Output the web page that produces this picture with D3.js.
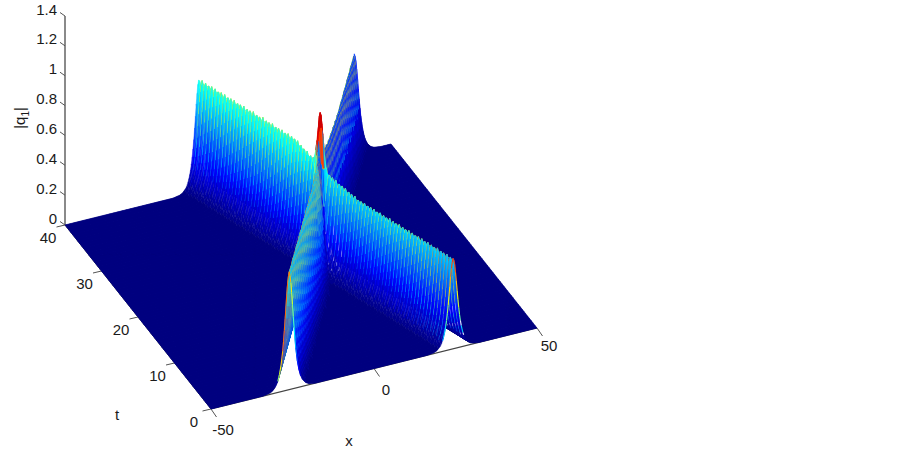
<!DOCTYPE html>
<html>
<head>
<meta charset="utf-8">
<style>
body { margin: 0; background: #fff; }
text { font-family: "Liberation Sans", Arial, sans-serif; font-size: 15px; fill: #1a1a1a; }
</style>
</head>
<body>
<svg width="903" height="449"></svg>
<script src="https://d3js.org/d3.v7.min.js"></script>
<script>
// axis ticks
var xTicks = [-50, 0, 50];
var tTicks = [0, 10, 20, 30, 40];
var zTicks = [0, 0.2, 0.4, 0.6, 0.8, 1, 1.2, 1.4];

// the two ridges at these t values
var readT   = [0, 5, 10, 15, 20, 25, 30, 35, 40];
var ridgeAx = [24.3, 20.2, 16, 11.9, 7.7, 3.6, -0.5, -4.7, -8.9];
var ridgeAz = [0.61, 0.61, 0.61, 0.61, 0.66, 0.76, 0.76, 0.76, 0.76];
var ridgeBx = [-26, -17.9, -9.8, -1.7, 5.4, 14, 22.6, 30.7, 38.8];
var ridgeBz = [0.79, 0.79, 0.79, 0.79, 0.76, 0.68, 0.67, 0.67, 0.67];

// colour shift seen on the flanks near the front edge, same t values
var bFlankHot = [0.5, 0.25, 0.12, 0.08, 0, 0, 0, 0, 0];
var aFlankHot = [0.25, 0.08, 0, 0, 0, 0, 0, 0, 0];

// cross section of a ridge: relative height against distance from its crest
var profileOff   = [0, 0.4, 0.8, 1.2, 1.6, 2, 2.5, 3, 3.5, 4, 5, 6, 8];
var profileLevel = [1, 0.94, 0.8, 0.63, 0.47, 0.34, 0.225, 0.147, 0.094, 0.06, 0.025, 0.01, 0];

// where the mesh shows white specks: t range on ridge A
var speckLeftT  = [16.5, 19.5];
var speckRightT = [0, 3];

var svg = d3.select("svg");

// oblique view: screen position = offset from t + offset from x + lift from z
var tPx = d3.scaleLinear([0, 40], [211, 65]);
var tPy = d3.scaleLinear([0, 40], [409, 225]);
var xPx = d3.scaleLinear([-50, 50], [0, 326]);
var xPy = d3.scaleLinear([-50, 50], [0, -81]);
var zPy = d3.scaleLinear([0, 1.4], [0, -209]);

function project(x, t, z) {
  return [tPx(t) + xPx(x), tPy(t) + xPy(x) + zPy(z)];
}

var aX = d3.scaleLinear(readT, ridgeAx), aZ = d3.scaleLinear(readT, ridgeAz);
var bX = d3.scaleLinear(readT, ridgeBx), bZ = d3.scaleLinear(readT, ridgeBz);
var bHot = d3.scaleLinear(readT, bFlankHot), aHot = d3.scaleLinear(readT, aFlankHot);
var profile = d3.scaleLinear(profileOff, profileLevel).clamp(true);

function height(x, t) {
  var a = aZ(t) * profile(Math.abs(x - aX(t)));
  var b = bZ(t) * profile(Math.abs(x - bX(t)));
  return Math.hypot(a, b) * (a > 0.3 && b > 0.3 ? 1.04 : 1);
}

// jet colormap, 64 steps
var jetScale = d3.scaleLinear([0, 0.125, 0.375, 0.625, 0.875, 1],
  ["#00007f", "#0000ff", "#00ffff", "#ffff00", "#ff0000", "#7f0000"]).clamp(true);
var jet = d3.range(64).map(function(i) { return jetScale(i / 63); });
var cIndex = d3.scaleQuantize([0, 1.1], d3.range(64));

var xGrid = d3.range(-50, 50.01, 0.25);
var tGrid = d3.range(0, 40.01, 0.5);
var zz = tGrid.map(function(t) { return xGrid.map(function(x) { return height(x, t); }); });

function pts(list) {
  return "M" + list.map(function(p) { return p[0].toFixed(2) + "," + p[1].toFixed(2); }).join("L");
}

// axis lines go under the surface
var axes = svg.append("g");
function seg(a, b, color, w) {
  axes.append("line").attr("x1", a[0]).attr("y1", a[1]).attr("x2", b[0]).attr("y2", b[1])
    .attr("stroke", color).attr("stroke-width", w);
}
seg(project(-50, 40, 0), project(-50, 40, 1.4), "#8a8a8a", 2);
seg(project(-50, 0, 0), project(50, 0, 0), "#444", 1.2);
seg(project(-50, 0, 0), project(-50, 40, 0), "#444", 1);

zTicks.forEach(function(z) {
  var p = project(-50, 40, z);
  seg(p, [p[0] - 5, p[1] - 3.5], "#555", 1);
  axes.append("text").attr("x", p[0] - 8).attr("y", p[1] - 1.5).attr("text-anchor", "end").text(z);
});
tTicks.forEach(function(t) {
  var p = project(-50, t, 0);
  seg(p, [p[0] - 8.5, p[1] + 2], "#555", 1);
  axes.append("text").attr("x", p[0] - 17).attr("y", p[1] + 18).attr("text-anchor", "middle").text(t);
});
xTicks.forEach(function(x) {
  var p = project(x, 0, 0);
  seg(p, [p[0] + 5.5, p[1] + 8], "#555", 1);
  axes.append("text").attr("x", p[0] + 12).attr("y", p[1] + (x === 50 ? 23 : 26)).attr("text-anchor", "middle").text(x);
});

axes.append("text").attr("x", 349).attr("y", 446).attr("text-anchor", "middle").text("x");
axes.append("text").attr("x", 117).attr("y", 420).attr("text-anchor", "middle").text("t");
var zl = axes.append("text").attr("transform", "translate(25,118) rotate(-90)").attr("text-anchor", "middle");
zl.append("tspan").text("|q");
zl.append("tspan").attr("dy", 4).style("font-size", "10px").text("1");
zl.append("tspan").attr("dy", -4).text("|");

// colour of a row line or a strip cell, depends on which flank it is on
function lineColor(x, t, z, falling) {
  var nearB = Math.abs(x - bX(t)) < 5, nearA = Math.abs(x - aX(t)) < 5;
  if (z > 0.8) return cIndex(Math.min(1, z * 1.2));
  if (nearB && falling) return cIndex(t > 18 ? (z < 0.35 ? z * 0.3 : z * 1.1) : z);
  if (nearB) return cIndex(Math.min(0.85, z + bHot(t) * Math.min(1, z * 10)));
  var low = z < 0.2 ? z * 0.5 : z;
  return cIndex(Math.min(0.72, low + 0.05) + (nearA ? aHot(t) * Math.min(1, z * 10) : 0));
}
function fillColor(x, t, z, falling) {
  var nearB = Math.abs(x - bX(t)) < 5;
  if (z > 0.8) return cIndex(Math.min(1, z * 1.1));
  if (nearB && falling) return cIndex(t > 18 ? z * 0.35 : z * 0.5);
  return cIndex(z * 0.62);
}
// every third cell in the speck bands stays pale
function isSpeck(x, t, z, falling, i, j) {
  if ((i + j) % 3 !== 0) return false;
  var d = Math.abs(x - aX(t));
  if (!falling && t >= speckLeftT[0] && t <= speckLeftT[1]) return d > 1.5 && d < 4;
  if (falling && t >= speckRightT[0] && t <= speckRightT[1]) return d > 1.5 && d < 4.5;
  return false;
}

// painter's order: back rows first, far end of each row first
var marks = [];
for (var j = tGrid.length - 2; j >= 0; j--) {
  var run = null;
  for (var i = xGrid.length - 2; i >= 0; i--) {
    var z0 = zz[j][i], z1 = zz[j][i + 1], z2 = zz[j + 1][i + 1], z3 = zz[j + 1][i];
    var mean = (z0 + z1 + z2 + z3) / 4;
    var c = fillColor(xGrid[i], tGrid[j], mean, z1 < z0);
    var quad = [project(xGrid[i], tGrid[j], z0), project(xGrid[i + 1], tGrid[j], z1),
                project(xGrid[i + 1], tGrid[j + 1], z2), project(xGrid[i], tGrid[j + 1], z3)];
    if (run && run.c === c) {
      run.d += pts(quad) + "Z";
    } else {
      run = { c: c, d: pts(quad) + "Z", w: c === 0 ? 0.7 : 0.4, fill: true };
      marks.push(run);
    }
  }
  // the row line on top of its strip, coloured by its true height
  for (i = xGrid.length - 2; i >= 0; i--) {
    var h = Math.max(zz[j][i], zz[j][i + 1]);
    if (h < 0.08) continue;
    var falling = zz[j][i + 1] < zz[j][i];
    marks.push({ c: lineColor(xGrid[i], tGrid[j], h, falling), w: 1.1, fill: false,
      pale: isSpeck(xGrid[i], tGrid[j], h, falling, i, j),
      d: pts([project(xGrid[i + 1], tGrid[j], zz[j][i + 1]), project(xGrid[i], tGrid[j], zz[j][i])]) });
  }
}

svg.append("g").selectAll("path").data(marks).join("path")
  .attr("d", function(d) { return d.d; })
  .attr("fill", function(d) { return d.fill ? jet[d.c] : "none"; })
  .attr("stroke", function(d) { return d.pale ? "#e8eeff" : jet[d.c]; })
  .attr("stroke-width", function(d) { return d.w; });
</script>
</body>
</html>
